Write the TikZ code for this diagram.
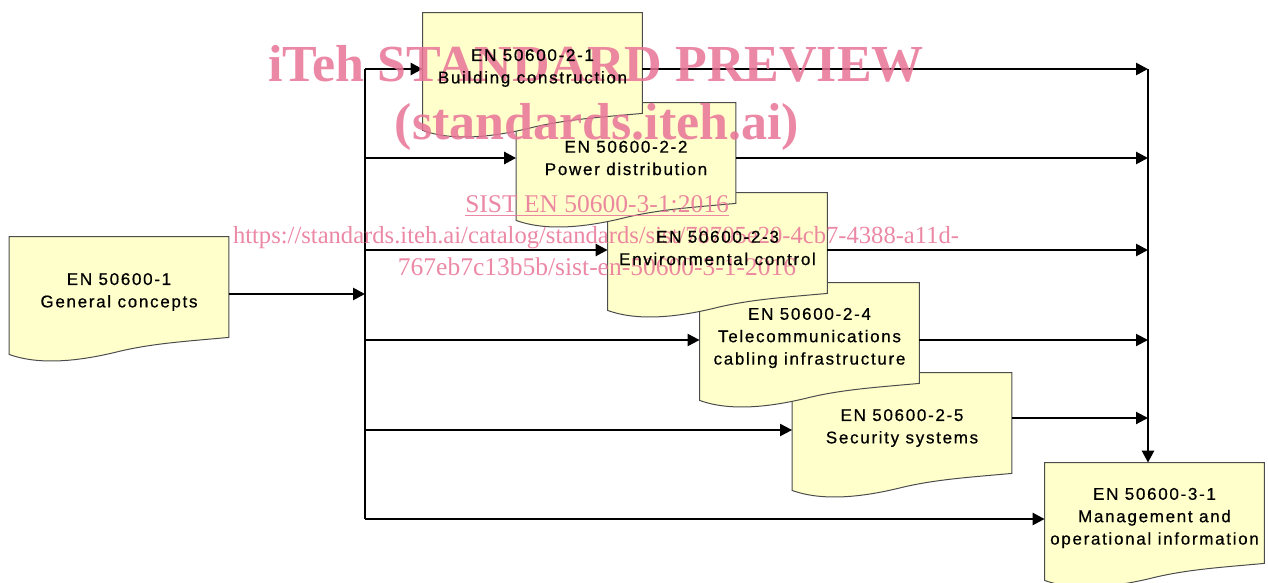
\documentclass[tikz,border=0pt]{standalone}
\usepackage{fontspec}
\setmainfont{Liberation Sans}
\newfontfamily\boxfont[LetterSpace=10,FakeBold=0.6]{Liberation Sans}
\newfontfamily\wmfont{Liberation Serif}
\usetikzlibrary{arrows.meta,calc}
\definecolor{docfill}{RGB}{255,255,204}
\definecolor{wmpink}{RGB}{232,115,150}
\pgfdeclarelayer{bglayer}
\pgfdeclarelayer{wmlayer}
\pgfsetlayers{bglayer,wmlayer,main}
\newcommand\docshape[1]{%
  \path[docbox] (#1.north west) -- (#1.north east) -- ($(#1.south east)+(0,-10)$)
    .. controls ($(#1.south east)+(-44,-6)$) and ($(#1.south east)+(-76,-4)$) .. ($(#1.south)+(0,4)$)
    .. controls ($(#1.south)+(-40,14)$) and ($(#1.south west)+(30,18)$) .. ($(#1.south west)+(0,7)$)
    -- cycle;}
\tikzset{
  boxtext/.style={align=center, inner sep=0pt, minimum width=109.5pt, minimum height=55pt,
    font=\boxfont\fontsize{8.5}{11.2}\selectfont},
  docbox/.style={draw=black!70, fill=docfill, line width=0.5pt},
  conn/.style={draw=black, line width=1.3pt, -{Triangle[length=6pt,width=6pt]}},
  thinconn/.style={conn, line width=1pt},
  trunk/.style={draw=black, line width=1pt},
  wm/.style={text=wmpink, text opacity=0.85, inner sep=0pt, anchor=base},
}
\begin{document}
\begin{tikzpicture}[x=0.5pt,y=-0.5pt]
\useasboundingbox (0,0) rectangle (1268,583);
% box texts (main layer); node spans box top to top+110
\node[boxtext] (b1) at (119,292) {EN 50600-1\\General concepts};
\node[boxtext] (b2) at (532.5,68) {EN 50600-2-1\\Building construction};
\node[boxtext] (b3) at (626,158) {EN 50600-2-2\\Power distribution};
\node[boxtext] (b4) at (717.5,248) {EN 50600-2-3\\Environmental control};
\node[boxtext] (b5) at (809.5,338) {EN 50600-2-4\\Telecommunications\\cabling infrastructure};
\node[boxtext] (b6) at (902,428) {EN 50600-2-5\\Security systems};
\node[boxtext] (b7) at (1154.5,518) {EN 50600-3-1\\Management and\\operational information};
% junction coordinates
\coordinate (t1) at (365,69);
\coordinate (t2) at (365,158);
\coordinate (t3) at (365,250);
\coordinate (t4) at (365,340);
\coordinate (t5) at (365,430);
\coordinate (t6) at (365,519);
\coordinate (tin) at (365,294);
\coordinate (r1) at (1148,69);
\coordinate (r2) at (1148,158);
\coordinate (r3) at (1148,250);
\coordinate (r4) at (1148,340);
\coordinate (r5) at (1148,418);
\begin{pgfonlayer}{bglayer}
  \docshape{b7}
  \docshape{b6}
  \docshape{b5}
  \docshape{b4}
  \docshape{b3}
  \docshape{b2}
  \docshape{b1}
  \draw[trunk] (t1) -- (t6);
  \draw[conn] (b1.east |- tin) -- (tin);
  \draw[conn] (t1) -- (t1 -| b2.west);
  \draw[conn] (t2) -- (t2 -| b3.west);
  \draw[conn] (t3) -- (t3 -| b4.west);
  \draw[thinconn] (t4) -- (t4 -| b5.west);
  \draw[thinconn] (t5) -- (t5 -| b6.west);
  \draw[conn] (t6) -- (t6 -| b7.west);
  \draw[conn] (b2.east |- r1) -- (r1);
  \draw[conn] (b3.east |- r2) -- (r2);
  \draw[conn] (b4.east |- r3) -- (r3);
  \draw[thinconn] (b5.east |- r4) -- (r4);
  \draw[thinconn] (b6.east |- r5) -- (r5);
  \draw[conn] (r1) -- (r1 |- b7.north);
\end{pgfonlayer}
\begin{pgfonlayer}{wmlayer}
  \node[wm, font=\wmfont\bfseries\fontsize{26}{26}\selectfont] (wm1) at (596,82) {iTeh STANDARD PREVIEW};
  \node[wm, font=\wmfont\bfseries\fontsize{26}{26}\selectfont] (wm2) at (597,140) {(standards.iteh.ai)};
  \node[wm, font=\wmfont\fontsize{12.75}{13}\selectfont] (wm3) at (597,212) {\underline{SIST EN 50600-3-1:2016}};
  \node[wm, font=\wmfont\fontsize{12.3}{13}\selectfont] (wm4) at (596,243) {https://standards.iteh.ai/catalog/standards/sist/78705e20-4cb7-4388-a11d-};
  \node[wm, font=\wmfont\fontsize{12.75}{13}\selectfont] (wm5) at (597,275) {767eb7c13b5b/sist-en-50600-3-1-2016};
\end{pgfonlayer}
\end{tikzpicture}
\end{document}
